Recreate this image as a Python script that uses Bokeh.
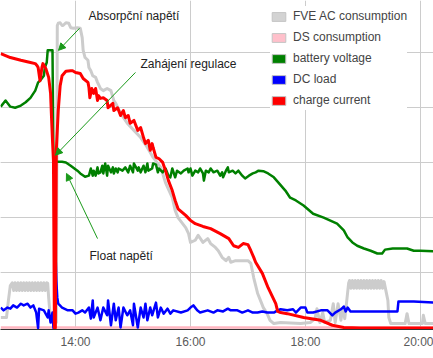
from bokeh.plotting import figure
from bokeh.models import Range1d, FixedTicker, Grid, Legend, LegendItem, Label, Arrow, NormalHead
from bokeh.embed import file_html
from bokeh.resources import INLINE

# ---- data (time = minutes after 12:00, values in chart units) ----
tick_minutes = [120, 240, 360, 480]
tick_labels = ["14:00", "16:00", "18:00", "20:00"]
grid_values = [100, 200, 300, 400, 500]

fve_minutes = [42, 48, 50, 52,
               54, 55.5, 57, 58.5, 60, 61.5, 63, 64.5, 66, 67.5, 69, 70.5, 72,
               73.5, 75, 76.5, 78, 79.5, 81, 82.5, 84, 85.5, 87, 88.5, 90, 91,
               92, 94, 96, 100, 101, 102, 104, 106, 107, 110,
               113, 115, 118, 122, 125, 127, 128, 130, 133, 134,
               136, 138, 141, 143, 146, 149, 153, 157, 160, 162,
               167, 174, 181, 188, 195, 201, 209, 214, 221, 224,
               227, 235, 238, 240, 245, 248, 253, 258, 261, 266,
               269, 273, 277, 280, 282, 287, 300, 303, 306, 310,
               313, 316, 320, 323, 327, 334, 355, 365, 370, 372,
               375, 378, 380, 386, 389, 391, 394, 397, 399, 401,
               402, 405,
               406, 407.5, 409, 410.5, 412, 413.5, 415, 416.5, 418, 419.5, 421, 422.5,
               424, 425.5, 427, 428.5, 430, 431.5, 433, 434.5, 436, 437.5, 439, 440.5,
               442, 446, 447, 449, 464, 466, 468, 482, 483, 485, 494]
fve_values = [19, 19, 50, 77,
              82, 68, 82, 68, 82, 68, 82, 68, 82, 68, 82, 68, 82,
              68, 82, 68, 82, 68, 82, 68, 82, 68, 82, 68, 82, 81,
              55, 14, 10, 10, 548, 552, 553, 548, 548, 553,
              552, 544, 543, 544, 543, 526, 503, 490, 485, 472,
              466, 457, 454, 445, 434, 430, 434, 430, 412, 407,
              389, 371, 358, 345, 327, 309, 291, 263, 236, 213,
              200, 182, 171, 155, 159, 168, 155, 162, 153, 146,
              140, 128, 122, 128, 119, 122, 122, 117, 91, 63,
              50, 37, 26, 14, 8, 10, 8, 10, 17, 35,
              10, 28, 10, 14, 44, 10, 44, 14, 37, 17,
              32, 81,
              86, 72, 86, 72, 86, 72, 86, 72, 86, 72, 86, 72,
              86, 72, 86, 72, 86, 72, 86, 72, 86, 72, 86, 72,
              84, 50, 19, 8, 8, 26, 8, 8, 23, 8, 8]

ds_minutes = [42, 494]
ds_values = [1, 1]

bat_minutes = [42, 47, 52, 57, 63, 68, 73, 78, 81, 83,
               87, 88, 90, 91, 96, 97, 101, 106, 110, 115,
               122, 125, 130, 134, 136, 138, 139, 141, 143, 144,
               146, 148, 149, 151, 153, 154, 157, 159, 160, 162,
               164, 165, 169, 172, 175, 177, 180, 181, 185, 186,
               188, 191, 193, 195, 196, 200, 201, 204, 206, 207,
               211, 214, 217, 219, 221, 224, 226, 230, 233, 237,
               238, 240, 242, 245, 248, 250, 253, 254, 256, 259,
               261, 264, 268, 271, 273, 274, 277, 279, 280, 284,
               287, 290, 294, 297, 301, 305, 308, 311, 316, 321,
               327, 332, 339, 344, 350, 358, 368, 379, 393, 400,
               404, 409, 414, 421, 428, 435, 440, 443, 451, 456,
               466, 473, 480, 494]
bat_values = [401, 412, 401, 399, 403, 409, 417, 430, 445, 448,
              457, 472, 481, 503, 503, 303, 301, 301, 300, 294,
              285, 280, 274, 276, 289, 276, 285, 276, 291, 280,
              282, 294, 280, 298, 276, 294, 282, 291, 280, 289,
              282, 289, 285, 291, 282, 294, 282, 298, 285, 291,
              282, 294, 282, 298, 285, 289, 298, 296, 282, 289,
              282, 289, 276, 273, 289, 273, 285, 280, 285, 289,
              282, 289, 276, 285, 282, 289, 280, 267, 285, 282,
              289, 282, 285, 276, 282, 273, 285, 291, 282, 285,
              280, 285, 276, 271, 276, 280, 282, 285, 284, 280,
              273, 263, 249, 236, 231, 222, 207, 200, 189, 177,
              164, 155, 149, 144, 140, 135, 135, 142, 144, 144,
              144, 140, 140, 139]

dc_minutes = [42, 45, 49, 52, 55, 59, 63, 66, 70, 73,
              76, 79, 81, 82, 87, 91, 92, 94, 96, 97,
              98, 99, 100, 101, 102, 106, 112, 117, 120, 123,
              127, 130, 134, 136, 138, 139, 143, 146, 149, 153,
              154, 157, 160, 162, 165, 167, 170, 174, 177, 180,
              181, 185, 188, 191, 193, 195, 198, 200, 204, 206,
              209, 212, 216, 219, 222, 230, 237, 240, 243, 247,
              250, 258, 264, 268, 274, 279, 282, 289, 294, 300,
              305, 310, 315, 320, 327, 331, 334, 341, 347, 350,
              355, 360, 362, 368, 376, 383, 388, 391, 397, 399,
              400, 402, 404, 407, 417, 438, 456, 457, 473, 494]
dc_values = [37, 32, 37, 35, 41, 37, 44, 41, 44, 37,
             41, 28, 0, 35, 32, 19, 32, 10, 28, 0,
             14, 146, 86, 55, 44, 37, 32, 32, 26, 28,
             32, 28, 37, 17, 50, 19, 37, 14, 37, 23,
             50, 5, 44, 14, 37, 1, 37, 23, 32, 5,
             44, 1, 37, 19, 44, 14, 37, 23, 46, 19,
             37, 26, 35, 26, 32, 28, 32, 37, 41, 32,
             28, 32, 28, 32, 30, 35, 32, 32, 28, 32,
             28, 28, 30, 28, 28, 32, 34, 32, 34, 28,
             37, 37, 28, 28, 32, 32, 23, 28, 34, 37,
             39, 30, 37, 30, 30, 30, 30, 48, 48, 46]

chg_minutes = [42, 52, 63, 73, 78, 80, 81, 83, 85, 86,
               89, 92, 94, 95, 96, 97, 98, 99, 100, 101,
               102, 104, 106, 110, 115, 117, 120, 125, 128, 133,
               134, 135, 137, 139, 141, 143, 144, 146, 149, 153,
               154, 159, 160, 164, 167, 170, 172, 175, 177, 181,
               185, 188, 191, 193, 196, 198, 200, 201, 204, 207,
               211, 214, 217, 221, 224, 227, 235, 240, 245, 253,
               261, 271, 280, 285, 290, 295, 300, 303, 306, 308,
               315, 321, 329, 331, 334, 341, 358, 376, 388, 400,
               417, 494]
chg_values = [497, 490, 485, 481, 479, 475, 472, 448, 472, 479,
              470, 454, 425, 381, 340, 303, 0, 0, 322, 358,
              394, 439, 457, 465, 466, 466, 463, 461, 452, 445,
              436, 417, 434, 425, 434, 412, 421, 416, 417, 412,
              399, 407, 394, 399, 385, 394, 381, 385, 371, 376,
              358, 363, 345, 334, 340, 322, 334, 327, 309, 307,
              300, 285, 267, 249, 231, 216, 204, 195, 189, 184,
              180, 171, 162, 149, 146, 153, 151, 140, 128, 119,
              99, 73, 44, 30, 28, 26, 19, 14, 5, 1,
              0, 0]

series_names = ["FVE AC consumption", "DS consumption", "battery voltage", "DC load", "charge current"]
series_colors = ["#cccccc", "#ffb6c1", "#008000", "#0000ff", "#ff0000"]
swatch_colors = ["#d3d3d3", "#ffc0cb", "#008000", "#0000ff", "#ff0000"]

note_texts = ["Absorpční napětí", "Zahájení regulace", "Float napětí"]
note_minutes = [133.6, 187.8, 134.6]
note_values = [566, 479, 130]
arrow_start_minutes = [124.2, 182.6, 143.0]
arrow_start_values = [543, 463, 162]
arrow_end_minutes = [102.3, 99.1, 110.6]
arrow_end_values = [503, 313, 280]

# ---- figure ----
p = figure(width=433, height=358, output_backend="svg", toolbar_location=None,
           x_range=Range1d(41.74, 493.6), y_range=Range1d(-2.7, 593.3),
           y_axis_location=None, min_border_left=0, min_border_right=0,
           min_border_top=0, min_border_bottom=29)
p.outline_line_color = None
p.background_fill_color = "white"
p.border_fill_color = "white"

xa = p.xaxis[0]
xa.ticker = FixedTicker(ticks=tick_minutes)
xa.major_label_overrides = {m: s for m, s in zip(tick_minutes, tick_labels)}
xa.major_tick_line_color = None
xa.minor_tick_line_color = None
xa.major_tick_out = 0
xa.major_label_standoff = 5
xa.axis_line_color = "#333333"
xa.major_label_text_font = "Liberation Sans"
xa.major_label_text_font_size = "12px"
xa.major_label_text_color = "#5a5a5a"

p.xgrid.grid_line_color = "#cccccc"
p.add_layout(Grid(dimension=1, ticker=FixedTicker(ticks=grid_values), grid_line_color="#cccccc"))

sets = [(fve_minutes, fve_values, 3), (ds_minutes, ds_values, 2.5), (bat_minutes, bat_values, 2.5),
        (dc_minutes, dc_values, 2.5), (chg_minutes, chg_values, 3)]
for (xs, ys, w), c in zip(sets, series_colors):
    p.line(xs, ys, line_color=c, line_width=w, line_join="round")

items = []
for name, c in zip(series_names, swatch_colors):
    r = p.rect(x=[float("nan")], y=[float("nan")], width=1, height=1,
               fill_color=c, line_color="#c4c4c4", line_width=1)
    items.append(LegendItem(label=name, renderers=[r]))
legend = Legend(items=items, location=(270, 219), padding=3, spacing=1, label_height=20,
                glyph_height=11, glyph_width=17, label_standoff=6, margin=0,
                label_text_font="Liberation Sans", label_text_font_size="12px",
                label_text_color="#444444", border_line_color=None,
                background_fill_color="white", background_fill_alpha=1)
p.add_layout(legend)

for t, m, v in zip(note_texts, note_minutes, note_values):
    p.add_layout(Label(x=m, y=v, text=t, text_font="Liberation Sans", text_font_size="12px",
                       text_color="#222222", text_baseline="middle", text_align="left"))
for xs, ys, xe, ye in zip(arrow_start_minutes, arrow_start_values, arrow_end_minutes, arrow_end_values):
    p.add_layout(Arrow(x_start=xs, y_start=ys, x_end=xe, y_end=ye, line_color="#1a9a1a", line_width=1,
                       end=NormalHead(size=7, fill_color="#1a9a1a", line_color="#1a9a1a")))

open("out.html", "w").write(file_html(p, INLINE))
